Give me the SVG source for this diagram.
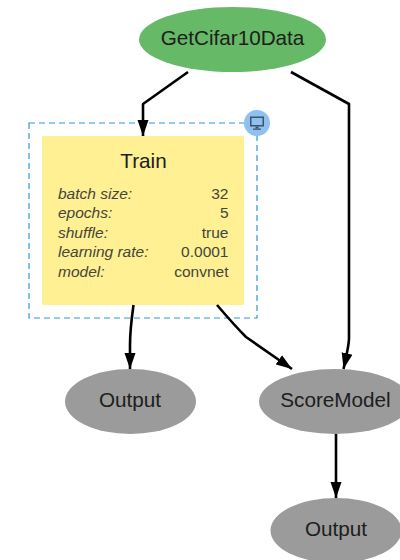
<svg xmlns="http://www.w3.org/2000/svg" width="400" height="560" viewBox="0 0 400 560">
<style>
text{font-family:"Liberation Sans",Arial,sans-serif;fill:#1c201c}
.n{font-size:20.700px;text-anchor:middle}
.k{font-size:15.500px;font-style:italic;fill:#45453a}
.v{font-size:15.500px;text-anchor:end;fill:#45453a}
.e{fill:none;stroke:#000;stroke-width:2.600;stroke-linejoin:round}
.grey{fill:#9b9b9b}
</style>
<defs>
<marker id="a" markerUnits="userSpaceOnUse" markerWidth="16" markerHeight="12" refX="16" refY="6" viewBox="0 0 16 12" orient="auto"><path d="M0 0.500L16 6L0 11.500Z" fill="#000"/></marker>
</defs>
<rect width="400" height="560" fill="#fff"/>
<g id="node-GetCifar10Data"><ellipse cx="232.500" cy="39.500" rx="93.500" ry="32.500" fill="#66b966"/><text class="n" x="232.500" y="45">GetCifar10Data</text></g>
<g id="node-Train">
<rect x="29" y="123" width="228" height="195" fill="none" stroke="#2f97d8" stroke-width="1.200" stroke-dasharray="6 4"/>
<rect x="42" y="136" width="202" height="169" fill="#fef093"/>
<circle cx="257" cy="123" r="13" fill="#8fc1f0"/>
<g fill="#3f5566"><path d="M250 116.500h14v10h-14zM251.500 118v7h11v-7z" fill-rule="evenodd"/><rect x="255.500" y="126.500" width="3" height="2"/><rect x="253" y="128.500" width="8" height="1.300"/></g>
<text class="n" x="143.500" y="168">Train</text>
<text class="k" x="58" y="199">batch size:</text><text class="v" x="228.500" y="199">32</text>
<text class="k" x="58" y="218">epochs:</text><text class="v" x="228.500" y="218">5</text>
<text class="k" x="58" y="238">shuffle:</text><text class="v" x="228.500" y="238">true</text>
<text class="k" x="58" y="257">learning rate:</text><text class="v" x="228.500" y="257">0.0001</text>
<text class="k" x="58" y="277">model:</text><text class="v" x="228.500" y="277">convnet</text>
</g>
<g id="node-Output-1"><ellipse class="grey" cx="130.500" cy="401.500" rx="65.500" ry="32.500"/><text class="n" x="130" y="407">Output</text></g>
<g id="node-ScoreModel"><ellipse class="grey" cx="335" cy="401.500" rx="76" ry="32.500"/><text class="n" x="335.500" y="407">ScoreModel</text></g>
<g id="node-Output-2"><ellipse class="grey" cx="336" cy="530.500" rx="65.500" ry="32.500"/><text class="n" x="336" y="536">Output</text></g>
<g id="connectors">
<path class="e" marker-end="url(#a)" d="M188 72L143 104V136"/>
<path class="e" marker-end="url(#a)" d="M291 72L349 104V338Q349 345 343.500 369"/>
<path class="e" marker-end="url(#a)" d="M133.500 305Q130 330 130 345V369"/>
<path class="e" marker-end="url(#a)" d="M217 305Q235 326 246 337L292 369"/>
<path class="e" marker-end="url(#a)" d="M336 434V498"/>
</g>
</svg>
